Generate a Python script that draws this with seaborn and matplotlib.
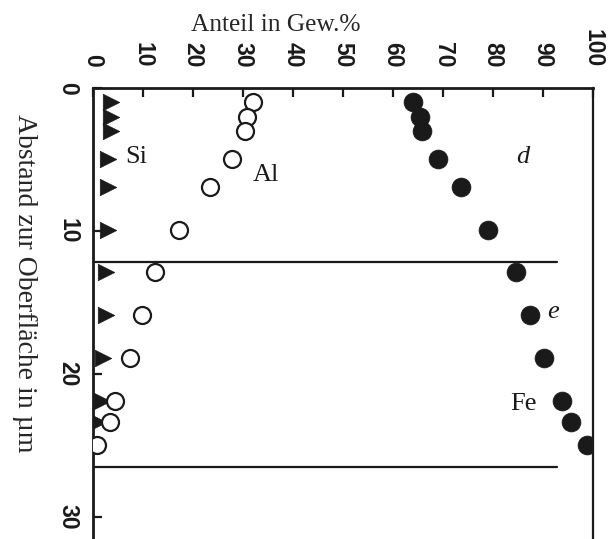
import matplotlib
matplotlib.use("Agg")
import matplotlib.pyplot as plt
import seaborn as sns
import pandas as pd

# Data (depth in µm, share in wt.%)
depth = [0.95, 2.0, 3.0, 5.0, 6.9, 9.9, 12.9, 15.9, 18.9, 21.9, 23.4, 25.0]
si = [3.5, 3.5, 3.5, 3.0, 3.0, 3.0, 2.5, 2.5, 2.0, 1.7, 1.0, 0.4]
al = [32.0, 30.7, 30.4, 27.7, 23.4, 17.2, 12.4, 9.8, 7.4, 4.4, 3.3, 0.7]
fe = [64.0, 65.4, 65.7, 69.0, 73.6, 79.0, 84.6, 87.4, 90.2, 93.7, 95.5, 98.7]
x_ticks = [0, 10, 20, 30, 40, 50, 60, 70, 80, 90, 100]
y_ticks = [0, 10, 20, 30]
boundaries = [12.2, 26.5]
boundary_end = 92.8

sns.set_theme(style="white")
plt.rcParams["font.family"] = ["Liberation Serif", "DejaVu Serif"]

df = pd.concat([
    pd.DataFrame({"depth": depth, "value": si, "el": "Si"}),
    pd.DataFrame({"depth": depth, "value": al, "el": "Al"}),
    pd.DataFrame({"depth": depth, "value": fe, "el": "Fe"}),
])

fig = plt.figure(figsize=(6.10, 5.39), dpi=100)
ax = fig.add_axes([93 / 610, 0.0, 500 / 610, 1 - 88 / 539])

styles = {
    "Si": dict(marker=">", s=140, color="#1a1a1a", edgecolor="#1a1a1a", linewidth=0.5),
    "Al": dict(marker="o", s=150, facecolor="white", edgecolor="#1a1a1a", linewidth=1.6),
    "Fe": dict(marker="o", s=185, color="#1a1a1a", edgecolor="#1a1a1a", linewidth=0.5),
}
for el, st in styles.items():
    sub = df[df["el"] == el]
    sns.scatterplot(data=sub, x="value", y="depth", ax=ax, legend=False, zorder=3, **st)

for b in boundaries:
    ax.plot([0, boundary_end], [b, b], color="#1a1a1a", lw=1.6, zorder=2)

ax.set_xlim(0, 100)
ax.set_ylim(31.55, 0)
ax.set_xticks(x_ticks)
ax.set_yticks(y_ticks)
ax.xaxis.tick_top()
ax.xaxis.set_label_position("top")

tick_font = dict(family="Liberation Sans", weight="bold", size=16.5)
ax.set_xticklabels([str(t) for t in x_ticks], rotation=-90, fontdict=tick_font, va="bottom", ha="center")
ax.set_yticklabels([str(t) for t in y_ticks], rotation=-90, fontdict=tick_font, va="center", ha="right")
ax.tick_params(axis="x", direction="in", length=6.5, width=1.6, pad=15, colors="#1a1a1a",
               top=True, bottom=False)
ax.tick_params(axis="y", direction="in", length=6.5, width=1.6, pad=10, colors="#1a1a1a",
               left=True, right=False)

for side in ["top", "left"]:
    ax.spines[side].set_linewidth(2.0)
    ax.spines[side].set_color("#1a1a1a")
ax.spines["right"].set_linewidth(1.6)
ax.spines["right"].set_color("#1a1a1a")
ax.spines["bottom"].set_visible(False)

ax.set_xlabel("")
ax.set_ylabel("")
fig.text(276 / 610, 1 - 25 / 539, "Anteil in Gew.%", ha="center", va="center", fontsize=18.3)
fig.text(24 / 610, 1 - 283 / 539, "Abstand zur Oberfläche in µm", ha="center", va="center",
         rotation=-90, fontsize=20)

ann = dict(fontsize=19, color="#1a1a1a", ha="center", va="center", zorder=4)
ax.text(8.6, 4.8, "Si", **ann)
ax.text(34.6, 6.1, "Al", **ann)
ax.text(86.0, 22.1, "Fe", **ann)
ax.text(86.0, 4.8, "d", style="italic", **ann)
ax.text(92.0, 15.7, "e", style="italic", **ann)

fig.savefig("out.png", dpi=100)
